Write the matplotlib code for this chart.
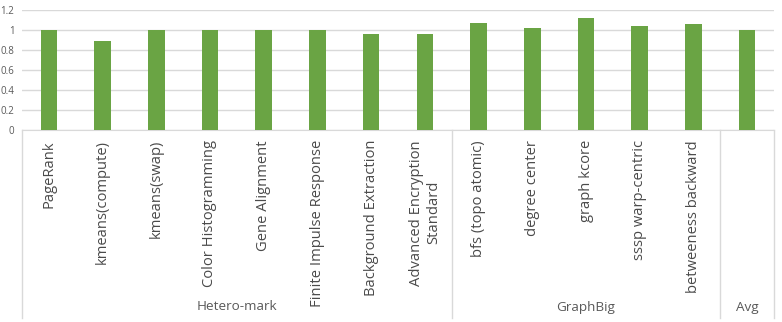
import numpy as np
import matplotlib.pyplot as plt
import matplotlib.transforms as mtransforms

plt.rcParams['font.family'] = ['Open Sans', 'DejaVu Sans']

# data
labels = ['PageRank', 'kmeans(compute)', 'kmeans(swap)', 'Color Histogramming',
          'Gene Alignment', 'Finite Impulse Response', 'Background Extraction',
          'Advanced Encryption\nStandard',
          'bfs (topo atomic)', 'degree center', 'graph kcore', 'sssp warp-centric',
          'betweeness backward', '']
values = [1.0, 0.885, 1.0, 1.0, 0.995, 1.0, 0.955, 0.955,
          1.065, 1.015, 1.115, 1.035, 1.055, 1.0]
group_names = ['Hetero-mark', 'GraphBig', 'Avg']
group_sizes = [8, 5, 1]
yticks = [0, 0.2, 0.4, 0.6, 0.8, 1, 1.2]
ytick_labels = ['0', '0.2', '0.4', '0.6', '0.8', '1', '1.2']

W, H = 782, 322
fig = plt.figure(figsize=(W / 100, H / 100), dpi=100)
x0, x1 = 22, 774
ytop, ybase = 9.5, 130
ax = fig.add_axes([x0 / W, 1 - ybase / H, (x1 - x0) / W, (ybase - ytop) / H])

x = np.arange(len(labels))
ax.bar(x, values, width=0.31, color='#6aa444', zorder=3)
ax.set_xlim(-0.5, len(labels) - 0.5)
ax.set_ylim(0, 1.2)
ax.set_yticks(yticks)
ax.set_yticklabels(ytick_labels, fontsize=7, color='#595959')
ax.tick_params(axis='y', length=0, pad=5.5)
ax.yaxis.grid(True, color='#d9d9d9', linewidth=1, zorder=0)
for s in ['top', 'right', 'left']:
    ax.spines[s].set_visible(False)
ax.spines['bottom'].set_color('#d9d9d9')
ax.set_xticks([])

trans = mtransforms.blended_transform_factory(ax.transData, ax.transAxes)
px = 1 / (ybase - ytop)  # one pixel in axes units
for xi, lab in zip(x, labels):
    ax.text(xi, -10 * px, lab, rotation=90, ha='center', va='top',
            multialignment='center', fontsize=10.6, color='#4a4a4a',
            transform=trans)

# group separators and names
bottom = -(318 - ybase) * px
edges = np.concatenate([[0], np.cumsum(group_sizes)]) - 0.5
for e in edges:
    ax.plot([e, e], [0, bottom], color='#d9d9d9', linewidth=1,
            transform=trans, clip_on=False)
for i, name in enumerate(group_names):
    mid = (edges[i] + edges[i + 1]) / 2
    ax.text(mid, -(307 - ybase) * px, name, ha='center', va='center',
            fontsize=9.7, color='#595959', transform=trans)

plt.savefig('out.png', dpi=100)
